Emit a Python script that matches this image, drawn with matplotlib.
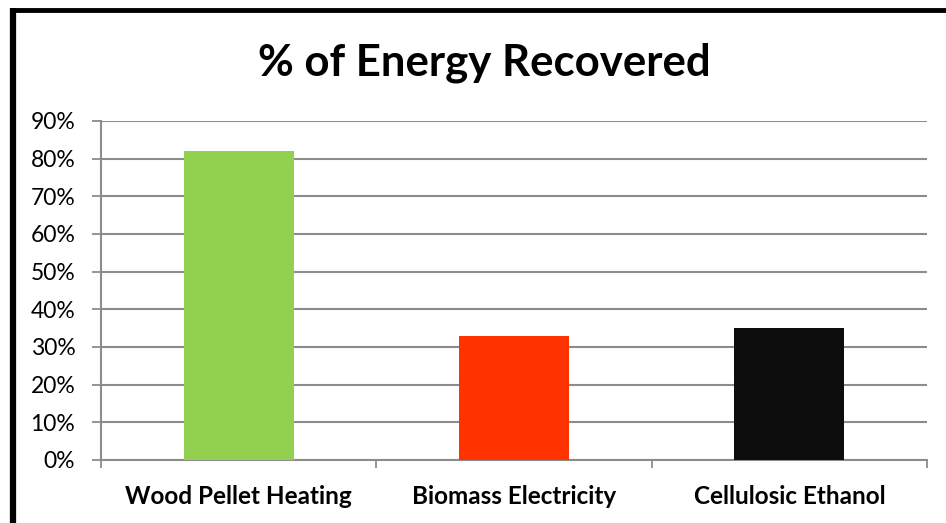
import matplotlib
matplotlib.use("Agg")
import matplotlib.pyplot as plt
from matplotlib.lines import Line2D
from matplotlib.ticker import FuncFormatter

categories = ["Wood Pellet Heating", "Biomass Electricity", "Cellulosic Ethanol"]
values = [82, 33, 35]
colors = ["#92d050", "#ff3300", "#0d0d0d"]
yticks = [0, 10, 20, 30, 40, 50, 60, 70, 80, 90]

plt.rcParams['font.family'] = ['Lato', 'DejaVu Sans']

fig = plt.figure(figsize=(9.46, 5.23), dpi=100)
ax = fig.add_axes([101/946, 1-460/523, 826/946, (460-121)/523])

x = list(range(len(categories)))
ax.bar(x, values, width=0.4, color=colors, zorder=3)
ax.set_xlim(-0.5, len(categories) - 0.5)
ax.set_ylim(0, 90)
ax.set_yticks(yticks)
ax.yaxis.set_major_formatter(FuncFormatter(lambda v, p: f"{int(v)}%"))
ax.set_xticks(x)
ax.set_xticklabels(categories, fontweight='bold', fontsize=17.5)
ax.set_xticks([i - 0.5 for i in range(len(categories) + 1)], minor=True)
ax.tick_params(axis='x', which='major', length=0, pad=18)
ax.tick_params(axis='x', which='minor', length=6, width=1.3, color='#8c8c8c')
ax.tick_params(axis='y', length=6.5, width=1.3, color='#8c8c8c', labelsize=16.5, pad=12)
ax.grid(axis='y', color='#8c8c8c', linewidth=1.5, zorder=0)
for s in ['top', 'right']:
    ax.spines[s].set_visible(False)
for s in ['left', 'bottom']:
    ax.spines[s].set_color('#8c8c8c')
    ax.spines[s].set_linewidth(1.5)

fig.text(484/946, 1-63/523, "% of Energy Recovered", ha='center', va='center',
         fontsize=31.5, fontweight='bold')

fig.add_artist(Line2D([13/946, 13/946], [0, 1-8/523], color='black', linewidth=4.5,
                      transform=fig.transFigure, solid_capstyle='butt'))
fig.add_artist(Line2D([10/946, 1], [1-10/523, 1-10/523], color='black', linewidth=3.5,
                      transform=fig.transFigure, solid_capstyle='butt'))

fig.savefig("out.png", dpi=100)
